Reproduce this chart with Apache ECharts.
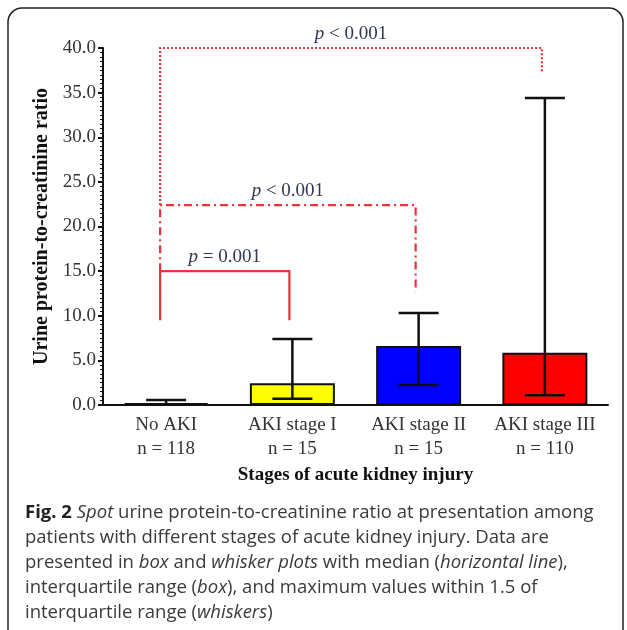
<!DOCTYPE html>
<html>
<head>
<meta charset="utf-8">
<script src="https://cdn.jsdelivr.net/npm/echarts@6/dist/echarts.min.js"></script>
<style>
  html, body { margin: 0; padding: 0; background: #fff; }
  #main { width: 627px; height: 630px; }
</style>
</head>
<body>
<div id="main"></div>
<script>
// data
var groups = ['No AKI', 'AKI stage I', 'AKI stage II', 'AKI stage III'];
var counts = [118, 15, 15, 110];
var barValues = [0.2, 2.45, 6.6, 5.85];
var whiskerLow = [0.05, 0.7, 2.25, 1.1];
var whiskerHigh = [0.55, 7.4, 10.3, 34.4];
var barColors = ['#ffffff', '#ffff00', '#0000ff', '#ff0000'];
var yTicks = [0, 40, 5];   // min, max, interval

// significance brackets: from group, to group, bracket height, left foot, right foot
var bracketFrom = [0, 0, 0];
var bracketTo = [1, 2, 3];
var bracketTop = [15.0, 22.4, 40.0];
var bracketLeftFoot = [9.5, 15.0, 22.4];
var bracketRightFoot = [9.5, 12.7, 37.3];
var bracketText = ['= 0.001', '< 0.001', '< 0.001'];

var serif = '"Liberation Serif", "Times New Roman", serif';
var sans = '"Open Sans", sans-serif';
var red = '#e8323c';
var dashes = [null, [8, 4, 2, 4], [2, 2]];

var myChart = echarts.init(document.getElementById('main'));

var catLabels = groups.map(function (g, i) { return g + '\nn = ' + counts[i]; });

var option = {
    animation: false,
    backgroundColor: '#fff',
    grid: { left: 103, right: 19, top: 48, bottom: 225 },
    xAxis: {
        type: 'category',
        data: catLabels,
        name: 'Stages of acute kidney injury',
        nameLocation: 'middle',
        nameGap: 59,
        nameTextStyle: { fontFamily: serif, fontWeight: 'bold', fontSize: 19, color: '#111' },
        axisLine: { lineStyle: { color: '#111', width: 2 } },
        axisTick: { alignWithLabel: true, length: 5, lineStyle: { color: '#111', width: 2 } },
        axisLabel: { interval: 0, fontFamily: serif, fontSize: 19, color: '#333', lineHeight: 24, margin: 8 }
    },
    yAxis: {
        type: 'value',
        min: yTicks[0],
        max: yTicks[1],
        interval: yTicks[2],
        name: 'Urine protein-to-creatinine ratio',
        nameLocation: 'middle',
        nameGap: 49,
        nameTextStyle: { fontFamily: serif, fontWeight: 'bold', fontSize: 20, color: '#111' },
        axisLine: { show: true, lineStyle: { color: '#111', width: 2 } },
        axisTick: { show: true, length: 5, lineStyle: { color: '#111', width: 2 } },
        minorTick: { show: true, splitNumber: 10, length: 3, lineStyle: { color: '#111', width: 1 } },
        splitLine: { show: false },
        axisLabel: {
            fontFamily: serif, fontSize: 19, color: '#333', margin: 7,
            formatter: function (v) { return v.toFixed(1); }
        }
    },
    series: [{
        type: 'bar',
        barWidth: 85,
        data: barValues.map(function (v, i) {
            return { value: v, itemStyle: { color: barColors[i] } };
        }),
        itemStyle: { borderColor: '#111', borderWidth: 2 },
        z: 2
    }, {
        // whiskers
        type: 'custom',
        data: groups.map(function (g, i) { return [i, whiskerLow[i], whiskerHigh[i]]; }),
        encode: { x: 0, y: [1, 2] },
        z: 3,
        renderItem: function (params, api) {
            var lo = api.coord([api.value(0), api.value(1)]);
            var hi = api.coord([api.value(0), api.value(2)]);
            var half = 20;
            var st = { stroke: '#111', lineWidth: 2.5 };
            return {
                type: 'group',
                children: [
                    { type: 'line', shape: { x1: hi[0], y1: hi[1], x2: lo[0], y2: lo[1] }, style: st },
                    { type: 'line', shape: { x1: hi[0] - half, y1: hi[1], x2: hi[0] + half, y2: hi[1] }, style: st },
                    { type: 'line', shape: { x1: lo[0] - half, y1: lo[1], x2: lo[0] + half, y2: lo[1] }, style: st }
                ]
            };
        }
    }, {
        // significance brackets
        type: 'custom',
        clip: false,
        z: 4,
        data: bracketFrom.map(function (f, i) {
            return [f, bracketTo[i], bracketTop[i], bracketLeftFoot[i], bracketRightFoot[i], i];
        }),
        encode: { x: [0, 1], y: [2, 3, 4] },
        renderItem: function (params, api) {
            var k = api.value(5);
            var a = api.coord([api.value(0), api.value(2)]);
            var b = api.coord([api.value(1), api.value(2)]);
            var la = api.coord([api.value(0), api.value(3)]);
            var rb = api.coord([api.value(1), api.value(4)]);
            var xl = a[0] - 6, xr = b[0] - 3;
            var mid = (xl + xr) / 2;
            return {
                type: 'group',
                children: [{
                    type: 'polyline',
                    shape: { points: [[xl, la[1]], [xl, a[1]], [xr, a[1]], [xr, rb[1]]] },
                    style: { stroke: red, lineWidth: 2.2, fill: null, lineDash: dashes[k] }
                }, {
                    type: 'text',
                    x: mid,
                    y: a[1] - 14,
                    style: {
                        text: '{p|p} ' + bracketText[k],
                        rich: {
                            p: { fontStyle: 'italic', fontFamily: serif, fontSize: 19, fill: '#2f3650' }
                        },
                        fontFamily: serif, fontSize: 19, fill: '#2f3650',
                        align: 'center', verticalAlign: 'middle'
                    }
                }]
            };
        }
    }],
    graphic: [{
        type: 'rect',
        shape: { x: 8, y: 8, width: 615, height: 640, r: 14 },
        style: { fill: null, stroke: '#222', lineWidth: 1.5 },
        silent: true
    }, {
        type: 'text',
        left: 25,
        top: 500,
        style: {
            text: [
                '{b|Fig. 2} {i|Spot} urine protein-to-creatinine ratio at presentation among',
                'patients with different stages of acute kidney injury. Data are',
                'presented in {i|box} and {i|whisker plots} with median ({i|horizontal line}),',
                'interquartile range ({i|box}), and maximum values within 1.5 of',
                'interquartile range ({i|whiskers})'
            ].join('\n'),
            fontFamily: sans,
            fontSize: 18.5,
            lineHeight: 25,
            fill: '#3a3a3a',
            rich: {
                b: { fontWeight: 'bold', fontFamily: sans, fontSize: 18.5, fill: '#222', lineHeight: 25 },
                i: { fontStyle: 'italic', fontFamily: sans, fontSize: 18.5, fill: '#3a3a3a', lineHeight: 25 }
            }
        }
    }]
};

myChart.setOption(option);
</script>
</body>
</html>
